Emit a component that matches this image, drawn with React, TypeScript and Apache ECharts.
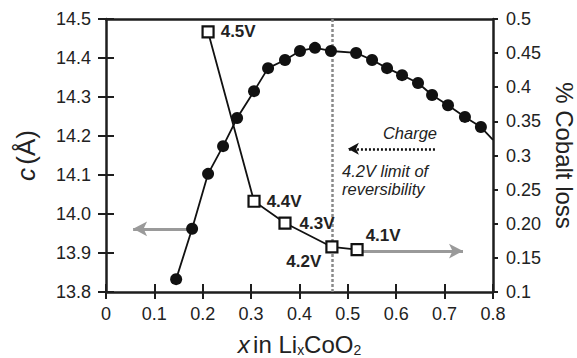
import React, { useEffect, useRef } from "react";
import * as echarts from "echarts";

const FONT = "'Liberation Sans', Arial, Helvetica, sans-serif";

// c-lattice parameter vs x (left axis)
const cX = [0.145, 0.178, 0.211, 0.242, 0.271, 0.306, 0.335, 0.37, 0.401, 0.432, 0.465, 0.517, 0.55, 0.581, 0.612, 0.645, 0.674, 0.707, 0.742, 0.775, 0.8];
const cValues = [13.833, 13.962, 14.103, 14.174, 14.246, 14.315, 14.374, 14.395, 14.418, 14.426, 14.418, 14.413, 14.395, 14.374, 14.356, 14.336, 14.305, 14.279, 14.249, 14.223, 14.19];

// cobalt loss vs x (right axis)
const lossX = [0.211, 0.306, 0.37, 0.467, 0.519];
const lossValues = [0.481, 0.233, 0.201, 0.166, 0.162];
const voltages = ["4.5V", "4.4V", "4.3V", "4.2V", "4.1V"];

// tick labels
const xTicks = ["0", "0.1", "0.2", "0.3", "0.4", "0.5", "0.6", "0.7", "0.8"];
const leftTicks = ["13.8", "13.9", "14.0", "14.1", "14.2", "14.3", "14.4", "14.5"];
const rightTicks = ["0.1", "0.15", "0.20", "0.25", "0.3", "0.35", "0.4", "0.45", "0.5"];

// annotation values
const limitX = 0.467;
const leftArrow = { from: [0.178, 13.962], to: [0.056, 13.962] };
const rightArrow = { from: [0.519, 0.16], to: [0.738, 0.16] };
const chargeArrow = { from: [0.68, 14.167], to: [0.5, 14.167] };

const AX = "#1e1e1e";
const LBL = "#222";

function tickLabel(arr: string[], min: number, step: number) {
  return (v: number) => {
    const i = Math.round((v - min) / step);
    return arr[i] ?? "";
  };
}

export default function App() {
  const ref = useRef<HTMLDivElement>(null);
  useEffect(() => {
    if (!ref.current) return;
    const chart = echarts.init(ref.current, undefined, { renderer: "svg" });
    const labelPos: any[] = [
      { position: "right", distance: 6 },
      { position: "right", distance: 6 },
      { position: "right", distance: 8 },
      { position: "left", distance: 4, offset: [0, 15] },
      { position: "right", distance: 2, offset: [0, -14] },
    ];
    const tickStyle = { color: AX, width: 2 };
    const option: any = {
      animation: false,
      textStyle: { fontFamily: FONT },
      grid: { left: 106, right: 84, top: 19, bottom: 66, containLabel: false, outerBoundsMode: "none" },
      xAxis: [
        {
          type: "value",
          position: "bottom",
          min: 0,
          max: 0.8,
          interval: 0.1,
          splitLine: { show: false },
          axisLine: { onZero: false, lineStyle: { color: AX, width: 2.5 } },
          axisTick: { inside: false, length: 7, lineStyle: tickStyle },
          axisLabel: { color: LBL, fontSize: 18, margin: 13, fontFamily: FONT, formatter: tickLabel(xTicks, 0, 0.1) },
          name: "{i|x} {n|in Li}{s|x}{n|CoO}{s|2}",
          nameLocation: "middle",
          nameGap: 39,
          nameTextStyle: {
            color: LBL,
            fontFamily: FONT,
            rich: {
              i: { fontSize: 24, fontStyle: "italic", color: LBL, fontFamily: FONT, lineHeight: 24, verticalAlign: "top" },
              n: { fontSize: 24, color: LBL, fontFamily: FONT, lineHeight: 24, verticalAlign: "top" },
              s: { fontSize: 14, color: LBL, fontFamily: FONT, lineHeight: 14, verticalAlign: "bottom", padding: [15, 0, 0, 0] },
            },
          },
        },
        {
          type: "value",
          position: "top",
          min: 0,
          max: 0.8,
          splitLine: { show: false },
          axisLine: { onZero: false, lineStyle: { color: AX, width: 2.5 } },
          axisTick: { show: false },
          axisLabel: { show: false },
        },
        {
          type: "value",
          position: "bottom",
          min: 0,
          max: 0.8,
          interval: 0.1,
          splitLine: { show: false },
          axisLine: { show: false },
          axisTick: { inside: true, length: 8, lineStyle: tickStyle },
          axisLabel: { show: false },
        },
      ],
      yAxis: [
        {
          type: "value",
          position: "left",
          min: 13.8,
          max: 14.5,
          interval: 0.1,
          splitLine: { show: false },
          axisLine: { onZero: false, lineStyle: { color: AX, width: 2.5 } },
          axisTick: { inside: false, length: 8, lineStyle: tickStyle },
          axisLabel: { color: LBL, fontSize: 18, margin: 15, fontFamily: FONT, formatter: tickLabel(leftTicks, 13.8, 0.1) },
          name: "{i|c} {n|(Å)}",
          nameLocation: "middle",
          nameGap: 67,
          nameTextStyle: {
            color: LBL,
            fontFamily: FONT,
            rich: {
              i: { fontSize: 26, fontStyle: "italic", color: LBL, fontFamily: FONT },
              n: { fontSize: 26, color: LBL, fontFamily: FONT },
            },
          },
        },
        {
          type: "value",
          position: "right",
          min: 0.1,
          max: 0.5,
          interval: 0.05,
          splitLine: { show: false },
          axisLine: { onZero: false, lineStyle: { color: AX, width: 2.5 } },
          axisTick: { inside: false, length: 5, lineStyle: tickStyle },
          axisLabel: { color: LBL, fontSize: 18, margin: 13, fontFamily: FONT, formatter: tickLabel(rightTicks, 0.1, 0.05) },
          name: "% Cobalt loss",
          nameLocation: "middle",
          nameRotate: -90,
          nameGap: 59,
          nameTextStyle: { color: LBL, fontSize: 24, lineHeight: 24, fontFamily: FONT },
        },
        {
          type: "value",
          position: "left",
          min: 13.8,
          max: 14.5,
          interval: 0.1,
          splitLine: { show: false },
          axisLine: { show: false },
          axisTick: { inside: true, length: 8, lineStyle: tickStyle },
          axisLabel: { show: false },
        },
      ],
      graphic: [
        { type: "text", right: 577 - 437, top: 124, style: { text: "Charge", fontSize: 16.5, fontStyle: "italic", fill: LBL, fontFamily: FONT, textAlign: "right" } },
        { type: "text", left: 342, top: 162, style: { text: "4.2V limit of", fontSize: 16.5, fontStyle: "italic", fill: LBL, fontFamily: FONT } },
        { type: "text", left: 342, top: 180, style: { text: "reversibility", fontSize: 16.5, fontStyle: "italic", fill: LBL, fontFamily: FONT } },
      ],
      series: [
        {
          type: "line",
          xAxisIndex: 0,
          yAxisIndex: 0,
          data: cX.map((x, i) =>
            i === cX.length - 1 ? { value: [x, cValues[i]], symbol: "none" } : [x, cValues[i]]
          ),
          symbol: "circle",
          symbolSize: 12,
          itemStyle: { color: "#111" },
          lineStyle: { color: "#111", width: 1.8 },
          z: 5,
          markLine: {
            silent: true,
            animation: false,
            z: 2,
            label: { show: false },
            data: [
              [
                { coord: leftArrow.from, symbol: "none" },
                { coord: leftArrow.to, symbol: "arrow", symbolSize: [11, 14], lineStyle: { color: "#9a9a9a", width: 3, type: "solid" } },
              ],
              [
                { coord: chargeArrow.from, symbol: "none" },
                { coord: chargeArrow.to, symbol: "arrow", symbolSize: [9, 11], lineStyle: { color: "#111", width: 2.5, type: [2, 2] } },
              ],
              [
                { xAxis: limitX, yAxis: 13.8, symbol: "none" },
                { xAxis: limitX, yAxis: 14.5, symbol: "none", lineStyle: { color: "#8a8a8a", width: 2.5, type: [3, 2] } },
              ],
            ],
          },
        },
        {
          type: "line",
          xAxisIndex: 0,
          yAxisIndex: 1,
          data: lossX.map((x, i) => ({ value: [x, lossValues[i]], label: labelPos[i] })),
          symbol: "rect",
          symbolSize: 11,
          itemStyle: { color: "#fff", borderColor: "#111", borderWidth: 2.2 },
          lineStyle: { color: "#111", width: 1.8 },
          z: 6,
          label: {
            show: true,
            formatter: (p: any) => voltages[p.dataIndex],
            fontSize: 17,
            fontWeight: "bold",
            color: LBL,
            fontFamily: FONT,
          },
          markLine: {
            silent: true,
            animation: false,
            z: 2,
            label: { show: false },
            data: [
              [
                { coord: rightArrow.from, symbol: "none" },
                { coord: rightArrow.to, symbol: "arrow", symbolSize: [11, 14], lineStyle: { color: "#9a9a9a", width: 3, type: "solid" } },
              ],
            ],
          },
        },
      ],
    };
    chart.setOption(option);
    return () => chart.dispose();
  }, []);
  return <div ref={ref} style={{ width: 577, height: 358, position: "absolute", left: 0, top: 0 }} />;
}
